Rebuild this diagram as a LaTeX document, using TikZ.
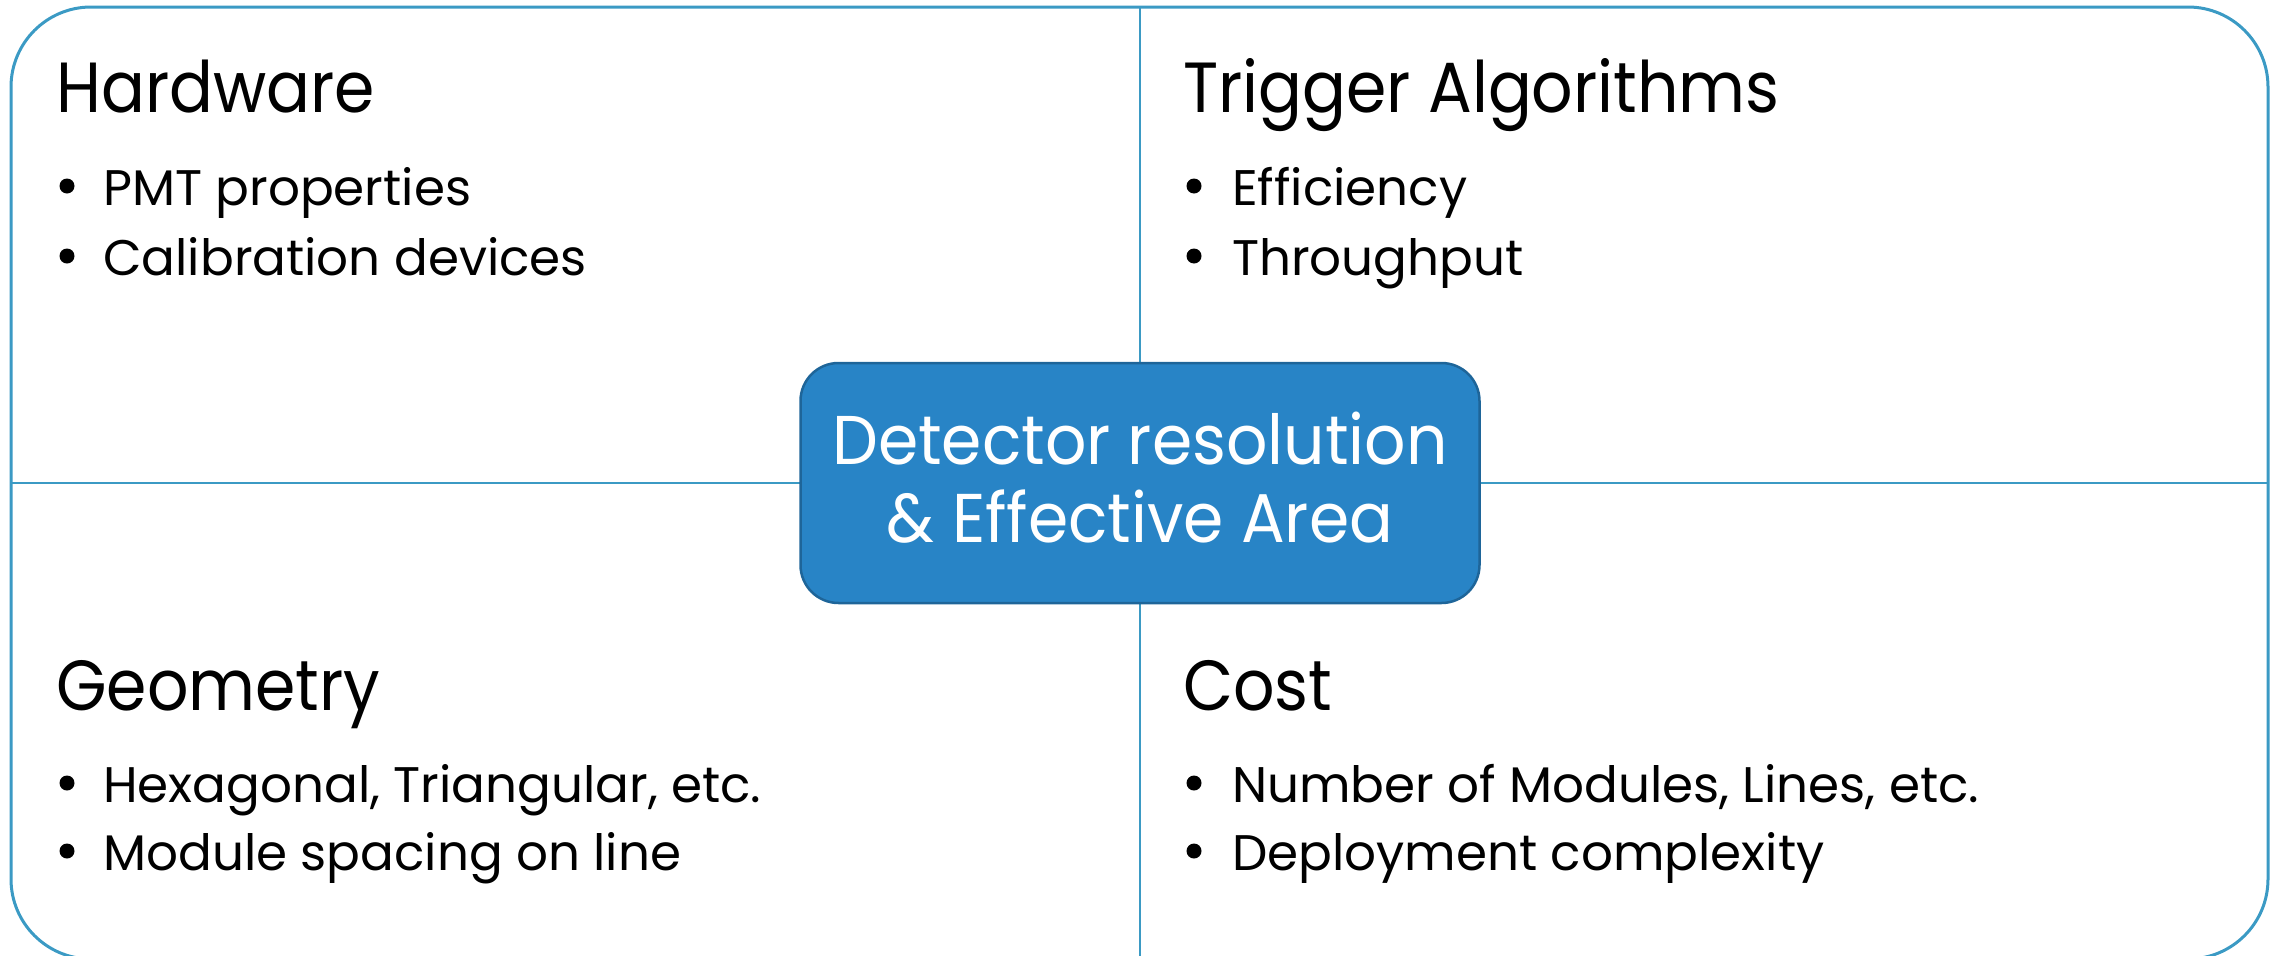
\documentclass[tikz,border=0pt]{standalone}
\usepackage{fontspec}
\setmainfont{Poppins}
\newfontfamily\headfont[FakeStretch=0.915]{Poppins}
\newfontfamily\hubfont[FakeStretch=0.94]{Poppins}
\definecolor{framecol}{RGB}{59,154,196}
\definecolor{hubfill}{RGB}{40,132,198}
\definecolor{hubedge}{RGB}{30,101,153}
\begin{document}
\begin{tikzpicture}[x=1pt,y=-1pt,
  frameline/.style={draw=framecol,line width=3pt},
  divider/.style={draw=framecol,line width=2.2pt},
  hub/.style={draw=hubedge,line width=2.5pt,fill=hubfill,rounded corners=38pt,
    minimum width=679pt,minimum height=240pt,inner sep=0pt},
  hubtext/.style={inner sep=0pt,text=white,align=center,
    font=\hubfont\fontsize{69}{78}\selectfont},
  heading/.style={anchor=base west,inner sep=0pt,font=\headfont\fontsize{71}{80}\selectfont},
  item/.style={anchor=base west,inner sep=0pt,font=\fontsize{50}{60}\selectfont},
  dot/.style={circle,fill=black,inner sep=0pt,minimum size=15pt}]
\useasboundingbox (0,0) rectangle (2279,956);

% outer frame and the two dividing lines
\draw[frameline,rounded corners=80pt] (11,7) rectangle (2268,959);
\coordinate (top) at (1140,7);
\coordinate (bottom) at (1140,959);
\coordinate (left) at (11,483);
\coordinate (right) at (2268,483);
\draw[divider] (top) -- (bottom);
\draw[divider] (left) -- (right);

% central box and its caption
\node[hub] (hub) at (1140,483) {};
\node[hubtext] (hubcap) at (1140,478) {Detector resolution\\\& Effective Area};

% upper left: hardware
\node[heading] (hw) at (56,112) {Hardware};
\node[dot] (hw1d) at (67,186) {};
\node[item] (hw1) at (103,205) {PMT properties};
\node[dot] (hw2d) at (67,256) {};
\node[item] (hw2) at (103,275) {Calibration devices};

% upper right: trigger algorithms
\node[heading] (tr) at (1183,112) {Trigger Algorithms};
\node[dot] (tr1d) at (1194,186) {};
\node[item] (tr1) at (1232,205) {Efficiency};
\node[dot] (tr2d) at (1194,256) {};
\node[item] (tr2) at (1232,275) {Throughput};

% lower left: geometry
\node[heading] (geo) at (56,710) {Geometry};
\node[dot] (geo1d) at (67,783) {};
\node[item] (geo1) at (103,802) {Hexagonal, Triangular, etc.};
\node[dot] (geo2d) at (67,851) {};
\node[item] (geo2) at (103,870) {Module spacing on line};

% lower right: cost
\node[heading] (cost) at (1183,710) {Cost};
\node[dot] (cost1d) at (1194,783) {};
\node[item] (cost1) at (1232,802) {Number of Modules, Lines, etc.};
\node[dot] (cost2d) at (1194,851) {};
\node[item] (cost2) at (1232,870) {Deployment complexity};
\end{tikzpicture}
\end{document}
